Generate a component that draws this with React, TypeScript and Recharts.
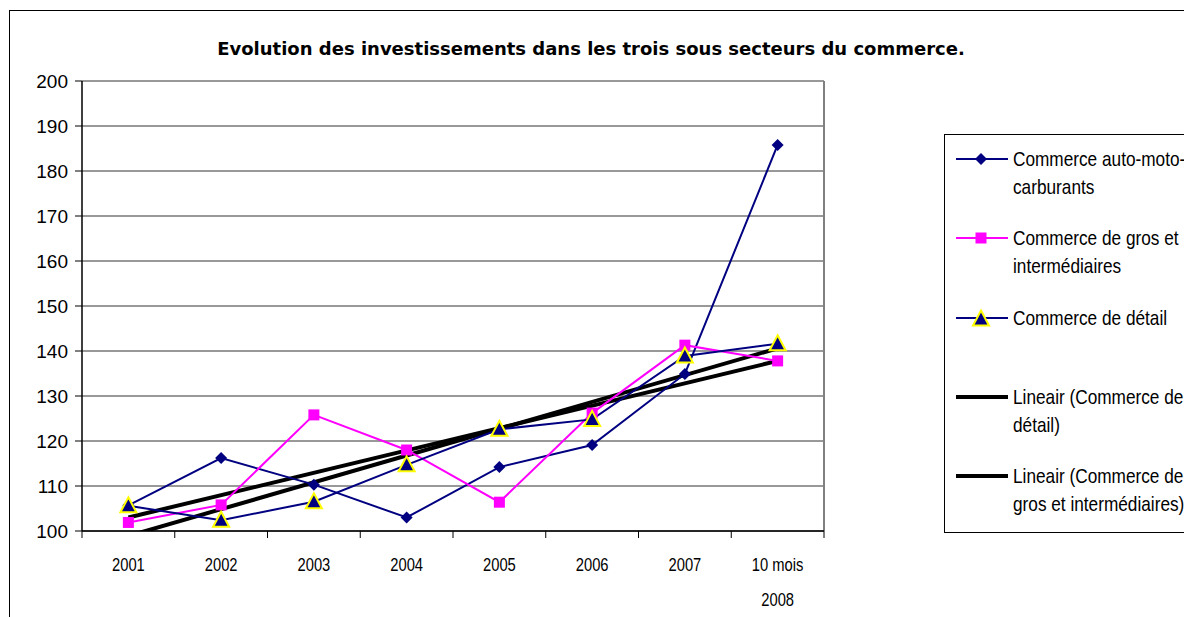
import { LineChart, Line, XAxis, YAxis, CartesianGrid } from "recharts";

const categories = ["2001", "2002", "2003", "2004", "2005", "2006", "2007", "10 mois 2008"];
const autoMoto = [105.7, 116.2, 110.3, 103.0, 114.2, 119.1, 134.9, 185.8];
const grosInter = [101.9, 105.8, 125.8, 118.0, 106.4, 126.2, 141.3, 137.8];
const detail = [105.6, 102.4, 106.5, 114.7, 122.6, 124.8, 138.9, 141.6];
// trend lines read at first and last category
const trendDetail = [98.9, null, null, null, null, null, null, 140.6];
const trendGros = [103.0, null, null, null, null, null, null, 137.8];
const yTicks = [100, 110, 120, 130, 140, 150, 160, 170, 180, 190, 200];

const data = categories.map((c, i) => ({
  cat: c,
  auto: autoMoto[i],
  gros: grosInter[i],
  detail: detail[i],
  tDetail: trendDetail[i],
  tGros: trendGros[i],
}));

const NAVY = "#000080";
const MAGENTA = "#FF00FF";
const HALF_BAND = 46.375;
const SANS = "'Liberation Sans', Arial, sans-serif";
const NARROW_SCALE = 0.82; // no Arial Narrow here, squeeze Liberation Sans

const Diamond = ({ cx, cy }: any) =>
  cx == null ? null : (
    <path d={`M${cx},${cy - 6}L${cx + 6},${cy}L${cx},${cy + 6}L${cx - 6},${cy}Z`} fill={NAVY} />
  );
const Square = ({ cx, cy }: any) =>
  cx == null ? null : <rect x={cx - 5.5} y={cy - 5.5} width={11} height={11} fill={MAGENTA} />;
const Triangle = ({ cx, cy }: any) =>
  cx == null ? null : (
    <path
      d={`M${cx},${cy - 8.5}L${cx + 8},${cy + 6.5}L${cx - 8},${cy + 6.5}Z`}
      fill={NAVY}
      stroke="#FFFF00"
      strokeWidth={2}
    />
  );

const XTick = ({ x, y, payload, index }: any) => {
  const label: string = payload.value;
  const cut = label.lastIndexOf(" ");
  const lines = label.length > 6 ? [label.slice(0, cut), label.slice(cut + 1)] : [label];
  return (
    <g>
      <line x1={x - HALF_BAND} x2={x - HALF_BAND} y1={y} y2={y + 7} stroke="#000" />
      {index === categories.length - 1 && (
        <line x1={x + HALF_BAND} x2={x + HALF_BAND} y1={y} y2={y + 7} stroke="#000" />
      )}
      {lines.map((l, i) => (
        <text
          key={i}
          transform={`translate(${x},${y + 33 + i * 35}) scale(${NARROW_SCALE},1)`}
          textAnchor="middle"
          dominantBaseline="central"
          fontFamily={SANS}
          fontSize={18}
          fill="#000"
        >
          {l}
        </text>
      ))}
    </g>
  );
};

const legendItems = [
  { lines: ["Commerce auto-moto-", "carburants"], color: NAVY, width: 2, marker: "diamond" },
  { lines: ["Commerce de gros et", "intermédiaires"], color: MAGENTA, width: 2, marker: "square" },
  { lines: ["Commerce de détail"], color: NAVY, width: 2, marker: "triangle" },
  { lines: ["Lineair (Commerce de", "détail)"], color: "#000", width: 4, marker: "" },
  { lines: ["Lineair (Commerce de", "gros et intermédiaires)"], color: "#000", width: 4, marker: "" },
];

const LegendMarker = ({ marker }: { marker: string }) => {
  if (marker === "diamond") return <Diamond cx={26} cy={14} />;
  if (marker === "square") return <Square cx={26} cy={14} />;
  if (marker === "triangle") return <Triangle cx={26} cy={15} />;
  return null;
};

export default function App() {
  return (
    <div style={{ position: "fixed", left: 0, top: 0, width: 1184, height: 617, overflow: "hidden", background: "#fff" }}>
      <div
        style={{
          position: "absolute",
          left: 9,
          top: 10,
          width: 2000,
          height: 2000,
          borderLeft: "1px solid #000",
          borderTop: "1px solid #000",
        }}
      />
      <div
        style={{
          position: "absolute",
          left: 0,
          width: 1184,
          top: 38,
          textAlign: "center",
          fontFamily: "'DejaVu Sans', sans-serif",
          fontWeight: "bold",
          fontSize: 18,
          lineHeight: "22px",
          color: "#000",
        }}
      >
        <span style={{ position: "relative", left: -1 }}>
          Evolution des investissements dans les trois sous secteurs du commerce.
        </span>
      </div>
      <div style={{ position: "absolute", left: 0, top: 0 }}>
        <LineChart width={1184} height={617} data={data} margin={{ top: 81, right: 360, left: 0, bottom: 6 }}>
          <CartesianGrid vertical={false} stroke="#333" />
          <CartesianGrid
            horizontal={false}
            stroke="#808080"
            strokeWidth={2}
            verticalCoordinatesGenerator={({ offset }: any) => [offset.left + offset.width]}
          />
          <XAxis
            dataKey="cat"
            padding={{ left: HALF_BAND, right: HALF_BAND }}
            axisLine={{ stroke: "#000", strokeWidth: 1.5 }}
            tickLine={false}
            tickSize={0}
            tickMargin={0}
            height={80}
            interval={0}
            tick={<XTick />}
          />
          <YAxis
            domain={[100, 200]}
            ticks={yTicks}
            allowDataOverflow
            width={82}
            axisLine={{ stroke: "#000", strokeWidth: 1.5 }}
            tickLine={{ stroke: "#000" }}
            tickSize={7}
            tickMargin={7}
            tick={{ fontFamily: SANS, fontSize: 19, fill: "#000" }}
          />
          <Line dataKey="tDetail" stroke="#000" strokeWidth={4} dot={false} connectNulls isAnimationActive={false} />
          <Line dataKey="tGros" stroke="#000" strokeWidth={4} dot={false} connectNulls isAnimationActive={false} />
          <Line dataKey="auto" stroke={NAVY} strokeWidth={2} dot={<Diamond />} activeDot={false} isAnimationActive={false} />
          <Line dataKey="gros" stroke={MAGENTA} strokeWidth={2} dot={<Square />} activeDot={false} isAnimationActive={false} />
          <Line dataKey="detail" stroke={NAVY} strokeWidth={2} dot={<Triangle />} activeDot={false} isAnimationActive={false} />
        </LineChart>
      </div>
      <div
        style={{
          position: "absolute",
          left: 944,
          top: 134,
          width: 400,
          height: 397,
          border: "1px solid #000",
          background: "#fff",
        }}
      >
        {legendItems.map((it, i) => (
          <div key={i} style={{ position: "absolute", left: 10, top: 10 + i * 79.3 }}>
            <svg width={54} height={28} style={{ position: "absolute", left: 0, top: 0 }}>
              <line x1={1} x2={53} y1={14} y2={14} stroke={it.color} strokeWidth={it.width} />
              <LegendMarker marker={it.marker} />
            </svg>
            <div
              style={{
                position: "absolute",
                left: 58,
                top: 0,
                whiteSpace: "nowrap",
                fontFamily: SANS,
                fontSize: 21,
                lineHeight: "28px",
                color: "#000",
                transform: `scaleX(${NARROW_SCALE})`,
                transformOrigin: "0 0",
              }}
            >
              {it.lines.map((l, j) => (
                <div key={j}>{l}</div>
              ))}
            </div>
          </div>
        ))}
      </div>
    </div>
  );
}
